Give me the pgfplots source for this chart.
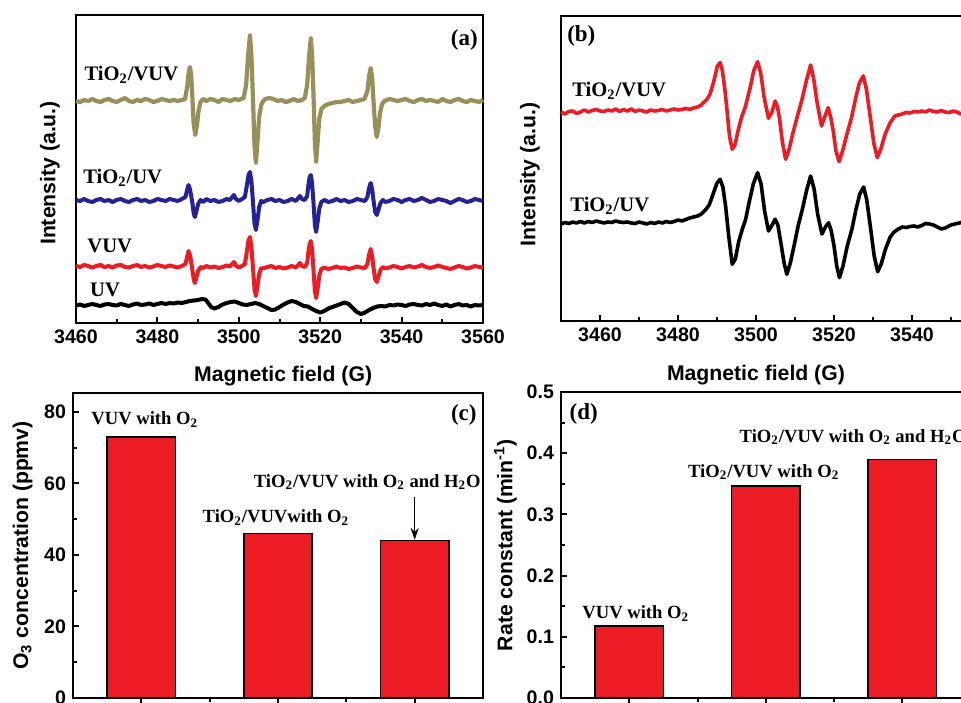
\documentclass[border=0pt]{standalone}
\usepackage{fontspec}
\setmainfont{Liberation Sans}
\newfontfamily\tnr{Liberation Serif}
\usepackage{pgfplots}
\pgfplotsset{compat=1.18}
\usetikzlibrary{arrows.meta}
\definecolor{olivec}{RGB}{152,144,88}
\definecolor{navyc}{RGB}{35,35,145}
\definecolor{redc}{RGB}{236,28,36}
\newcommand\ann{\tnr\bfseries\fontsize{10.3}{12}\selectfont}
\newcommand\annb{\tnr\bfseries\fontsize{9.3}{11}\selectfont}
\newcommand\plab{\tnr\bfseries\fontsize{11.5}{13}\selectfont}
\pgfplotsset{
  panel/.style={scale only axis, anchor=south west, clip=false,
    axis line style={line width=1.3pt}, tick pos=left, tick align=inside,
    major tick length=3pt, minor tick length=1.8pt,
    every tick/.style={black, line width=1pt},
    tick label style={font=\bfseries\fontsize{9.8}{10}\selectfont},
    label style={font=\bfseries\fontsize{10.6}{12}\selectfont, inner sep=0pt},
    /pgf/number format/assume math mode=true},
  epr/.style={panel, ytick=\empty, ymin=0, xtick distance=20, minor x tick num=1,
    xticklabel style={/pgf/number format/1000 sep={}}},
  bars/.style={panel, ybar, bar width=0.5, xmin=0.5, xmax=3.5, xtick={1,2,3},
    xticklabels={}, minor xtick={1.5,2.5}, ymin=0, minor y tick num=1, axis on top},
}
\begin{document}
\begin{tikzpicture}
\useasboundingbox (0,0) rectangle (480.5pt,351pt);
\clip (0,0) rectangle (480.5pt,351pt);

% (a) EPR spectra
\begin{axis}[epr, at={(38pt,189.5pt)}, width=203.5pt, height=154pt,
  xmin=3460, xmax=3560, ymax=308,
  xlabel={Magnetic field (G)}, ylabel={Intensity (a.u.)},
  xlabel style={at={(axis description cs:0.509,-0.138)}, anchor=north},
  ylabel style={at={(axis description cs:-0.039,0.487)}, anchor=south}]
\addplot[olivec, line width=2.1pt, line join=round] coordinates {
(3460,222) (3461,221) (3462,223) (3463,222) (3464,224) (3465,222) (3466,221) (3467,223) (3468,224) (3469,222)
(3470,221) (3471,223) (3472,225) (3473,222) (3474,221) (3475,223) (3476,222) (3477,224) (3478,223) (3479,221)
(3480,222) (3481,224) (3482,223) (3483,222) (3484,223) (3485,222) (3486,223)
(3486.8,224) (3487.3,236) (3487.7,251) (3488.0,256) (3488.3,248) (3488.6,225) (3488.9,200) (3489.3,188) (3489.7,197) (3490.1,212) (3490.6,221) (3491.2,224)
(3492,222) (3493,224) (3494,223) (3495,221) (3496,224) (3497,223) (3498,222) (3499,224) (3500,223)
(3501.2,225) (3501.8,238) (3502.3,268) (3502.75,288) (3503.1,268) (3503.5,222) (3503.85,178) (3504.2,160) (3504.6,182) (3505.0,206) (3505.5,218) (3506,222)
(3506.5,224) (3507.5,225) (3508.5,224) (3509.5,222) (3510.5,223) (3511.5,221) (3512.5,222) (3513.5,224) (3514.5,222) (3515.5,223)
(3516.2,225) (3516.8,238) (3517.25,266) (3517.7,285) (3518.05,265) (3518.4,222) (3518.7,180) (3519.0,161) (3519.4,183) (3519.8,205) (3520.3,214) (3521,217)
(3522,219) (3523,220) (3524,221) (3525,221) (3526,222) (3527,223) (3528,221) (3529,222) (3530,223)
(3530.9,224) (3531.6,232) (3532.05,248) (3532.4,255) (3532.75,246) (3533.1,222) (3533.5,197) (3533.9,186) (3534.3,195) (3534.7,210) (3535.2,219) (3535.8,222)
(3537,224) (3538,223) (3539,222) (3540,223) (3541,224) (3542,222) (3543,221) (3544,223) (3545,224) (3546,222)
(3547,223) (3548,222) (3549,221) (3550,224) (3551,222) (3552,221) (3553,223) (3554,224) (3555,222) (3556,221)
(3557,223) (3558,222) (3559,221) (3560,223)};
\addplot[navyc, line width=2pt, line join=round] coordinates {
(3460,123) (3461,122) (3462,124) (3463,122) (3464,121) (3465,123) (3466,124) (3467,122) (3468,123) (3469,121)
(3470,123) (3471,124) (3472,122) (3473,121) (3474,123) (3475,124) (3476,122) (3477,123) (3478,121) (3479,122)
(3480,124) (3481,123) (3482,122) (3483,124) (3484,123) (3485,122) (3486,124) (3486.9,126)
(3487.3,133) (3487.65,138) (3488.0,134) (3488.3,127) (3488.6,120) (3488.9,110) (3489.2,106) (3489.55,111) (3490,119) (3490.6,123)
(3491.3,121) (3492,124) (3493,122) (3494,123) (3495,121) (3496,122) (3497,124) (3497.8,123) (3498.4,126) (3498.8,128) (3499.3,124)
(3500,122) (3500.8,124) (3501.5,126)
(3502.0,138) (3502.4,148) (3502.75,151) (3503.1,142) (3503.5,120) (3503.85,100) (3504.2,93) (3504.6,103) (3505.0,116) (3505.5,122)
(3506,121) (3507,123) (3508,124) (3509,122) (3510,123) (3511,121) (3512,122) (3513,124) (3514,122) (3514.6,125) (3515.0,127)
(3515.5,124) (3516.2,123) (3516.8,127)
(3517.1,138) (3517.4,146) (3517.7,148) (3518.0,140) (3518.35,120) (3518.7,98) (3519.0,91) (3519.4,102) (3519.8,115) (3520.3,121)
(3521,123) (3522,121) (3523,122) (3524,124) (3525,122) (3526,123) (3527,121) (3528,122) (3529,124) (3530,123) (3531,122) (3531.6,126)
(3532.0,135) (3532.4,140) (3532.75,134) (3533.15,121) (3533.5,111) (3533.9,108) (3534.3,113) (3534.8,120) (3535.4,123)
(3536,121) (3537,122) (3538,124) (3539,123) (3540,121) (3541,123) (3542,124) (3543,122) (3544,123) (3545,125)
(3546,123) (3547,121) (3548,122) (3549,124) (3550,123) (3551,122) (3552,120) (3553,122) (3554,124) (3555,123)
(3556,121) (3557,122) (3558,124) (3559,123) (3560,122)};
\addplot[redc, line width=2pt, line join=round] coordinates {
(3460,57) (3461,56) (3462,58) (3463,57) (3464,55.5) (3465,57) (3466,58) (3467,56) (3468,57) (3469,55.5)
(3470,57.5) (3471,58) (3472,56) (3473,55.5) (3474,57) (3475,58) (3476,56) (3477,57) (3478,55.5) (3479,56.5)
(3480,58) (3481,57) (3482,56) (3483,57.5) (3484,56.5) (3485,55.5) (3486,57) (3486.9,59)
(3487.3,66) (3487.65,72) (3488.0,68) (3488.3,61) (3488.6,53) (3488.9,44) (3489.2,40) (3489.55,45) (3490,52) (3490.6,56)
(3491.3,55) (3492,57) (3493,55.5) (3494,56.5) (3495,55) (3496,56) (3497,57.5) (3497.8,56.5) (3498.4,59) (3498.8,61) (3499.3,57.5)
(3500,55.5) (3500.8,57) (3501.5,59)
(3502.0,72) (3502.4,83) (3502.75,86) (3503.1,76) (3503.5,54) (3503.85,34) (3504.2,27) (3504.6,37) (3505.0,49) (3505.5,55)
(3506,54.5) (3507,56) (3508,57) (3509,55) (3510,56) (3511,54.5) (3512,55.5) (3513,57) (3514,55.5) (3514.6,58) (3515.0,60)
(3515.5,57) (3516.2,56) (3516.8,60)
(3517.1,71) (3517.4,79) (3517.7,82) (3518.0,74) (3518.35,53) (3518.7,32) (3519.0,25) (3519.4,35) (3519.8,48) (3520.3,54)
(3521,55.5) (3522,54) (3523,55) (3524,56.5) (3525,55) (3526,55.5) (3527,54) (3528,55) (3529,56.5) (3530,55.5) (3531,55) (3531.6,59)
(3532.0,68) (3532.4,74) (3532.75,67) (3533.15,54) (3533.5,44) (3533.9,41) (3534.3,46) (3534.8,53) (3535.4,56)
(3536,54.5) (3537,55.5) (3538,57) (3539,56) (3540,54.5) (3541,56) (3542,57) (3543,55.5) (3544,56.5) (3545,58)
(3546,56) (3547,55) (3548,56) (3549,57.5) (3550,56) (3551,55) (3552,54) (3553,55.5) (3554,57) (3555,56)
(3556,54.5) (3557,55.5) (3558,57) (3559,56) (3560,55.5)};
\addplot[black, line width=2pt, line join=round] coordinates {
(3460,17.5) (3461,18.5) (3462,17) (3463,18) (3464,19) (3465,18) (3466,17) (3467,18.5) (3468,19) (3469,18)
(3470,17.5) (3471,19) (3472,18) (3473,17) (3474,18.5) (3475,19.5) (3476,18) (3477,18.5) (3478,19.5) (3479,18)
(3480,19) (3481,20) (3482,19) (3483,20) (3484,19.5) (3485,20.5) (3486,20) (3487,21) (3488,22) (3489,22.5)
(3490,23) (3491,24) (3491.8,23.5) (3492.5,20) (3493.2,16) (3494,14.5) (3495,16) (3496,18.5) (3497,20) (3498,21)
(3499,21.5) (3500,20) (3501,18.5) (3502,18) (3503,19) (3504,20) (3505,19) (3506,17) (3507,15) (3508,13)
(3509,13.5) (3510,16) (3511,18.5) (3512,20.5) (3513,22) (3514,21) (3515,19) (3516,17) (3517,16.5) (3518,14)
(3519,12) (3520,10.5) (3521,12) (3522,14.5) (3523,16) (3524,17.5) (3525,19) (3526,20.5) (3527,19) (3528,15)
(3529,11) (3530,9) (3531,10.5) (3532,13) (3533,15) (3534,16.5) (3535,17) (3536,16.5) (3537,18) (3538,17.5)
(3539,18.5) (3540,18) (3541,17) (3542,18.5) (3543,19) (3544,18) (3545,17.5) (3546,19) (3547,18) (3548,19.5)
(3549,18) (3550,17) (3551,18.5) (3552,16.5) (3553,18) (3554,19) (3555,17.5) (3556,18) (3557,16.5) (3558,18)
(3559,17.5) (3560,18)};
\node[anchor=base west, inner sep=0] at (axis cs:3462,242) {\ann TiO\textsubscript{2}/VUV};
\node[anchor=base west, inner sep=0] at (axis cs:3461.7,139) {\ann TiO\textsubscript{2}/UV};
\node[anchor=base west, inner sep=0] at (axis cs:3462.7,71) {\ann VUV};
\node[anchor=base west, inner sep=0] at (axis cs:3463.4,27) {\ann UV};
\node[anchor=base east, inner sep=0] at (axis cs:3558.8,277) {\plab (a)};
\end{axis}

% (b) EPR spectra
\begin{axis}[epr, at={(280.5pt,190.5pt)}, width=204.75pt, height=152.5pt,
  xmin=3450, xmax=3555, ymax=305,
  xlabel={Magnetic field (G)}, ylabel={Intensity (a.u.)},
  xlabel style={at={(axis description cs:0.476,-0.144)}, anchor=north},
  ylabel style={at={(axis description cs:-0.051,0.48)}, anchor=south}]
\addplot[redc, line width=1.8pt, line join=round] coordinates {
(3450,209) (3451,207) (3452,209.5) (3453,210) (3454,207.5) (3455,209) (3456,211) (3457,209) (3458,210.5) (3459,211.5)
(3460,210) (3461,209.5) (3462,211) (3463,210) (3464,212) (3465,209.5) (3466,211.5) (3467,210) (3468,212) (3469,209.5)
(3470,211) (3471,210) (3472,209) (3473,211) (3474,210) (3475,210.5) (3476,211.5) (3477,210) (3478,211) (3479,212)
(3480,211) (3481,211.5) (3482,212.5) (3483,211.7) (3484,213) (3485,214) (3486,216) (3486.5,218.3) (3487.3,221) (3488.2,226.7)
(3489.2,240) (3490.1,255) (3490.8,258.3) (3491.4,250) (3492,232) (3492.5,213.3) (3493.2,185) (3493.9,171.7) (3494.6,176) (3495.5,192)
(3496.4,205) (3497.2,213.3) (3497.9,224) (3498.5,233.3) (3499.4,250) (3500.4,259.3) (3501.2,248) (3502.1,223.3) (3503.2,202.7) (3504.1,209)
(3504.9,220) (3505.5,214) (3506.0,203.3) (3506.8,178) (3507.6,161.7) (3508.5,172) (3509.6,190) (3510.7,206) (3511.7,220) (3512.9,240)
(3514.0,256) (3514.8,242) (3515.6,220) (3516.8,195) (3517.7,205) (3518.5,213.3) (3519.2,203) (3519.8,190) (3520.5,170) (3521.3,159.3)
(3522.2,170) (3523.3,186.7) (3524.5,203.3) (3525.5,222) (3526.5,238) (3527.5,245) (3528.3,232) (3529.2,206.7) (3530.2,178) (3531.1,163.3)
(3532.0,172) (3533.1,186.7) (3534.4,198.3) (3535.6,205) (3536.5,206) (3537.5,207) (3538.5,208.5) (3539.5,208) (3540.5,209.5) (3541.5,209)
(3542.5,210) (3543.5,209) (3544.5,211) (3545.5,209.5) (3546.5,209) (3547.5,210.5) (3548.5,209) (3549.5,208.5) (3550.5,210) (3551.5,209)
(3552.5,207) (3553.5,208) (3555,207)};
\addplot[black, line width=1.8pt, line join=round] coordinates {
(3450,97) (3451,98.5) (3452,97.5) (3453,99) (3454,98) (3455,99.5) (3456,98) (3457,99.5) (3458,98.5) (3459,100)
(3460,99) (3461,98) (3462,99) (3463,98.5) (3464,100) (3465,99) (3466,98.5) (3467,99) (3468,98) (3469,97.5)
(3470,99) (3471,98) (3472,97) (3473,98.5) (3474,97.5) (3475,99) (3476,98) (3477,99.5) (3478,98.5) (3479,99.5)
(3480,101) (3481,100) (3482,101.5) (3483,103) (3484,104) (3485,105) (3486,107) (3487,111) (3488,116) (3489,127)
(3490,138) (3490.8,141.7) (3491.5,134) (3492.2,115) (3493,85) (3493.9,56.7) (3494.7,62) (3495.6,80) (3496.5,92) (3497.3,101)
(3498.2,118) (3499.3,137) (3500.4,148.3) (3501.3,137) (3502.2,110) (3503.2,90) (3504.0,95) (3504.9,101.7) (3505.6,96) (3506.3,80)
(3507.2,58) (3507.9,46.7) (3508.8,58) (3509.8,76) (3510.8,95) (3511.9,112) (3513,131) (3514.0,145) (3514.9,132) (3515.8,107)
(3516.9,87) (3517.8,94) (3518.6,98.3) (3519.3,90) (3520,75) (3520.7,55) (3521.4,43.3) (3522.3,55) (3523.4,75) (3524.6,92)
(3525.6,111) (3526.6,127) (3527.6,134) (3528.4,121) (3529.3,95) (3530.3,65) (3531.2,49.3) (3532.1,57) (3533.2,72) (3534.4,84)
(3535.4,89) (3536.5,92) (3537.5,94) (3538.5,93.5) (3539.5,94.5) (3540.5,95) (3541.5,94) (3542.5,95.5) (3543.5,97.5) (3544.5,97)
(3545.5,96) (3546.5,94) (3547.5,92) (3548.5,93) (3550,96) (3552.6,98.5) (3555,99)};
\node[anchor=base west, inner sep=0] at (axis cs:3452.8,224) {\ann TiO\textsubscript{2}/VUV};
\node[anchor=base west, inner sep=0] at (axis cs:3452.3,109) {\ann TiO\textsubscript{2}/UV};
\node[anchor=base west, inner sep=0] at (axis cs:3451.5,279) {\plab (b)};
\end{axis}

% (c) O3 concentration
\begin{axis}[bars, at={(36.5pt,2pt)}, width=205pt, height=152.5pt,
  ymax=85.3, ytick={0,20,40,60,80},
  ylabel={O\textsubscript{3} concentration (ppmv)},
  ylabel style={at={(axis description cs:-0.0976,0.5)}, anchor=south}]
\addplot[fill=redc, draw=black, line width=0.8pt] coordinates {(1,73) (2,46) (3,44)};
\node[anchor=base west, inner sep=0] at (axis cs:0.632,76.4) {\annb VUV with O\textsubscript{2}};
\node[anchor=base, inner sep=0] at (axis cs:1.985,49) {\annb TiO\textsubscript{2}/VUVwith O\textsubscript{2}};
\node[anchor=base west, inner sep=0] at (axis cs:1.82,58.9) {\annb TiO\textsubscript{2}/VUV with O\textsubscript{2} and H\textsubscript{2}O};
\node[anchor=base east, inner sep=0] at (axis cs:3.456,77.6) {\plab (c)};
\draw[-{Stealth[length=6pt,width=4pt]}, line width=0.8pt] (axis cs:3,56.3) -- (axis cs:3,44.2);
\end{axis}

% (d) rate constant
\begin{axis}[bars, at={(280.5pt,2pt)}, width=204.75pt, height=153pt,
  ymax=0.5, ytick={0,0.1,0.2,0.3,0.4,0.5},
  yticklabel style={/pgf/number format/fixed, /pgf/number format/precision=1, /pgf/number format/fixed zerofill},
  ylabel={Rate constant (min\textsuperscript{-1})},
  ylabel style={at={(axis description cs:-0.107,0.5)}, anchor=south}]
\addplot[fill=redc, draw=black, line width=0.8pt] coordinates {(1,0.118) (2,0.346) (3,0.39)};
\node[anchor=base, inner sep=0] at (axis cs:1.048,0.1295) {\annb VUV with O\textsubscript{2}};
\node[anchor=base, inner sep=0] at (axis cs:1.985,0.3607) {\annb TiO\textsubscript{2}/VUV with O\textsubscript{2}};
\node[anchor=base west, inner sep=0] at (axis cs:1.806,0.4175) {\annb TiO\textsubscript{2}/VUV with O\textsubscript{2} and H\textsubscript{2}O};
\node[anchor=base west, inner sep=0] at (axis cs:0.56,0.4546) {\plab (d)};
\end{axis}
\end{tikzpicture}
\end{document}
